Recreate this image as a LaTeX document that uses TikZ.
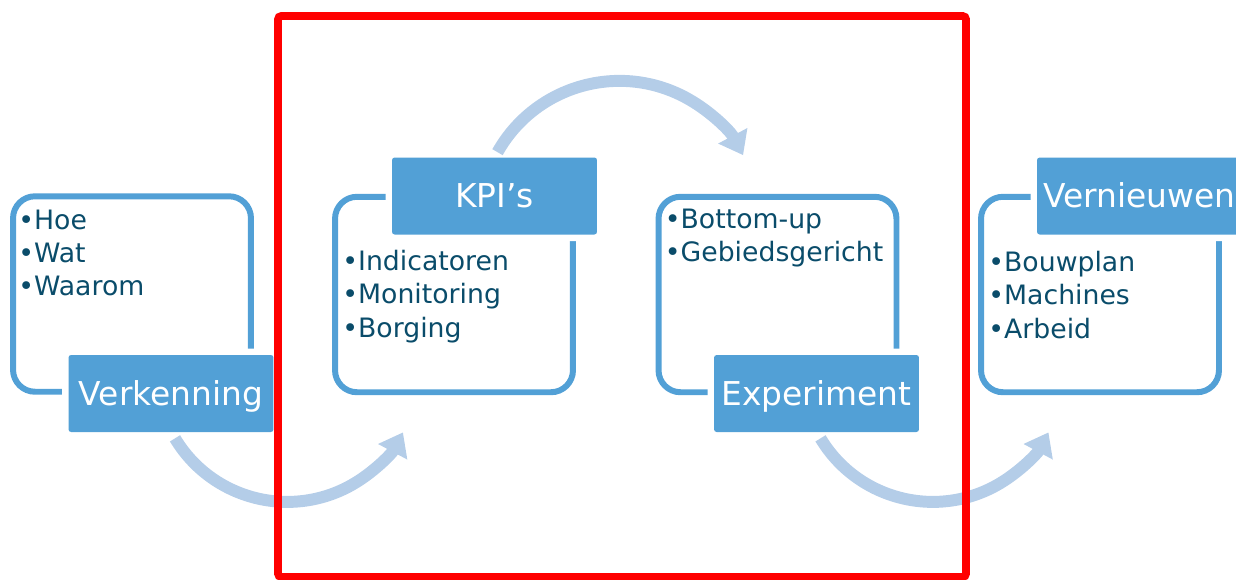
\documentclass[tikz,border=0pt]{standalone}
\usepackage{fontspec}
\setmainfont{DejaVu Sans}
\usetikzlibrary{positioning}
\usetikzlibrary{arrows.meta}
\definecolor{boxblue}{RGB}{82,160,214}
\definecolor{flowblue}{RGB}{180,205,232}
\definecolor{itemtext}{RGB}{10,76,106}

\begin{document}
\begin{tikzpicture}[
  x=0.02cm, y=-0.02cm,
  panel/.style={draw=boxblue,line width=3.4pt,rounded corners=0.44cm,
    minimum width=4.76cm,minimum height=3.91cm},
  lbl/.style={fill=boxblue,rounded corners=1.5pt,text=white,
    font=\fontsize{18.7}{22}\selectfont,text height=13.6pt,text depth=0pt,
    minimum width=4.1cm,minimum height=1.54cm,
    preaction={draw=white,line width=7.4pt}},
  items/.style={inner sep=0pt,align=left,text=itemtext,
    font=\fontsize{15.2}{19}\selectfont},
  flow/.style={draw=flowblue,line width=6.8pt,
    -{Triangle[length=12.5pt,width=18pt]}},
  hilite/.style={draw=red,line width=4.5pt,rounded corners=2pt}
]
\useasboundingbox (0,0) rectangle (1236,579);

\node[panel] (p1) at (132,294) {};
\node[panel] (p2) at (454,294.5) {};
\node[panel] (p3) at (777.5,294.5) {};
\node[panel] (p4) at (1100,294.5) {};

\node[lbl] (verk) at (171,393.5) {Verkenning};
\node[lbl] (kpi) at (494.5,196) {KPI’s};
\node[lbl] (expt) at (816.5,393.5) {Experiment};
\node[lbl] (vern) at (1139.5,196) {Vernieuwen};

\node[items,below right=0.32cm and 0.16cm of p1.north west] (l1) {•Hoe\\•Wat\\•Waarom};
\node[items,below right=1.12cm and 0.2cm of p2.north west] (l2) {•Indicatoren\\•Monitoring\\•Borging};
\node[items,below right=0.3cm and 0.18cm of p3.north west] (l3) {•Bottom-up\\•Gebiedsgericht};
\node[items,below right=1.14cm and 0.2cm of p4.north west] (l4) {•Bouwplan\\•Machines\\•Arbeid};

\draw[flow] ([shift={(4,6)}]verk.south) arc[start angle=149,end angle=28,radius=131];
\draw[flow] ([shift={(3,-5)}]kpi.north) arc[start angle=-150.6,end angle=-28,radius=140];
\draw[flow] ([shift={(4,6)}]expt.south) arc[start angle=149,end angle=28,radius=131];

\draw[hilite] (278,16) rectangle (966,577);
\end{tikzpicture}
\end{document}
